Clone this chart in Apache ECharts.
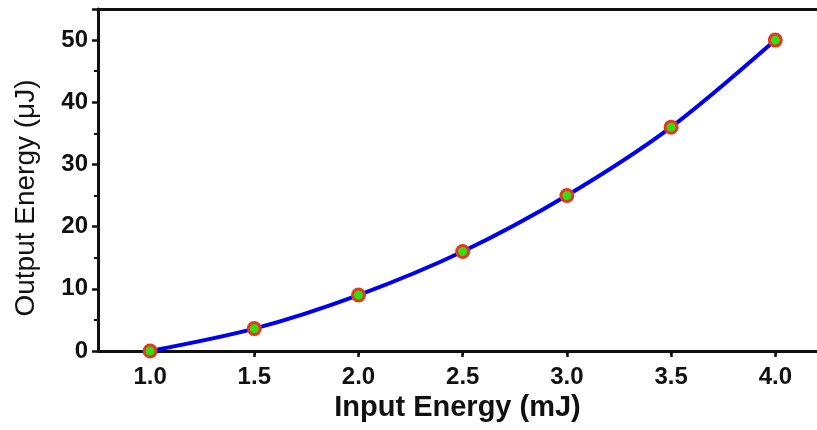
<!DOCTYPE html>
<html>
<head>
<meta charset="utf-8">
<script src="https://cdn.jsdelivr.net/npm/echarts@6/dist/echarts.min.js"></script>
<style>
html,body{margin:0;padding:0;background:#fff;}
#chart{width:817px;height:430px;}
</style>
</head>
<body>
<div id="chart"></div>
<script>
const inputEnergy = [1.0, 1.5, 2.0, 2.5, 3.0, 3.5, 4.0];
const outputEnergy = [0, 3.6, 9, 16, 25, 36, 50];
const xTickValues = [1.0, 1.5, 2.0, 2.5, 3.0, 3.5, 4.0];
const xTitle = 'Input Energy (mJ)';
const yTitle = 'Output Energy (\u03bcJ)';

const chart = echarts.init(document.getElementById('chart'));
const font = 'Liberation Sans, Arial, sans-serif';
chart.setOption({
  animation: false,
  backgroundColor: '#fff',
  grid: {left: 98, right: 0, top: 9, bottom: 79},
  xAxis: [{
    type: 'value', min: 0.75, max: 4.2, interval: 0.5,
    name: xTitle, nameLocation: 'middle', nameGap: 42,
    nameTextStyle: {fontFamily: font, fontWeight: 'bold', fontSize: 29, color: '#111'},
    axisLine: {onZero: false, lineStyle: {color: '#111', width: 3}},
    axisTick: {show: true, length: 6, inside: false, lineStyle: {color: '#111', width: 2.5}, customValues: xTickValues},
    minorTick: {show: true, splitNumber: 2, length: 4, lineStyle: {color: '#111', width: 2}},
    axisLabel: {fontFamily: font, fontWeight: 'bold', fontSize: 24, color: '#111', margin: 14,
      customValues: xTickValues, formatter: v => v.toFixed(1)},
    splitLine: {show: false}
  }, {
    type: 'value', position: 'top', min: 0.75, max: 4.2,
    axisLine: {show: true, onZero: false, lineStyle: {color: '#111', width: 3}},
    axisTick: {show: false}, axisLabel: {show: false}, splitLine: {show: false}
  }],
  yAxis: {
    type: 'value', min: 0, max: 55, interval: 10,
    name: yTitle, nameLocation: 'middle', nameGap: 58,
    nameTextStyle: {fontFamily: font, fontWeight: 'normal', fontSize: 28, color: '#111', padding: [0, 36, 0, 0]},
    axisLine: {show: true, lineStyle: {color: '#111', width: 3}},
    axisTick: {show: true, length: 6, lineStyle: {color: '#111', width: 2.5}},
    minorTick: {show: true, splitNumber: 2, length: 4, lineStyle: {color: '#111', width: 2}},
    axisLabel: {fontFamily: font, fontWeight: 'bold', fontSize: 24, color: '#111', margin: 10,
      showMaxLabel: false},
    splitLine: {show: false}
  },
  series: [{
    type: 'line',
    xAxisIndex: 0,
    data: inputEnergy.map((x, i) => [x, outputEnergy[i]]),
    smooth: 0.3,
    lineStyle: {color: '#0000f0', width: 4},
    symbol: 'circle', symbolSize: 12,
    itemStyle: {color: '#33dd11', borderColor: '#e23a1e', borderWidth: 3}
  }]
});
</script>
</body>
</html>
